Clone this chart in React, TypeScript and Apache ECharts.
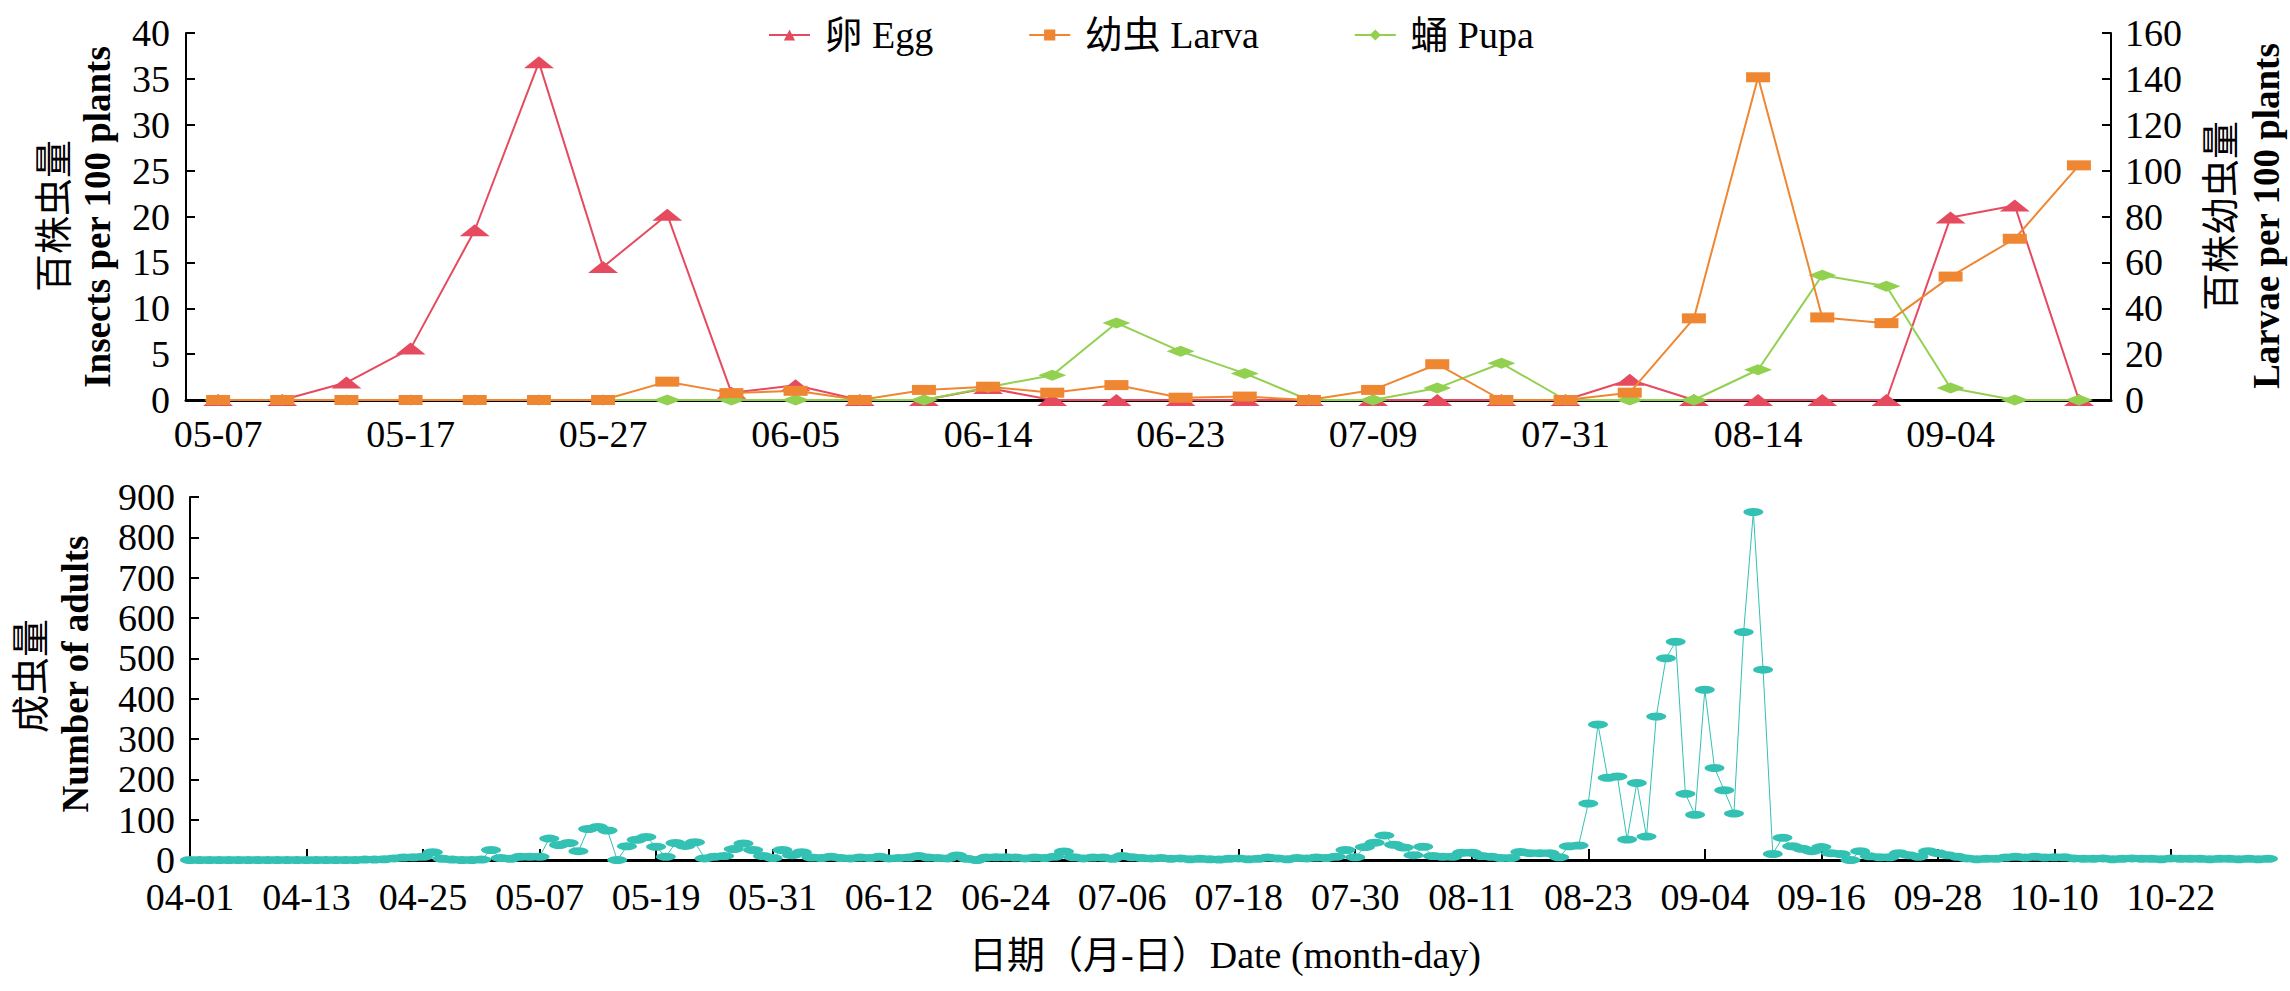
import React, { useEffect, useRef } from 'react';
import * as echarts from 'echarts';

// ---------- data ----------
const topDates = [
  '05-07', '05-10', '05-14', '05-17', '05-20', '05-24', '05-27', '05-31', '06-02', '06-05',
  '06-08', '06-11', '06-14', '06-17', '06-20', '06-23', '06-28', '07-04', '07-09', '07-16',
  '07-23', '07-31', '08-04', '08-09', '08-14', '08-21', '08-28', '09-04', '09-09', '09-14',
];
const eggValues = [0, 0, 1.9, 5.6, 18.5, 36.8, 14.5, 20.2, 0.8, 1.6, 0, 0, 1.3, 0, 0, 0, 0, 0, 0, 0, 0, 0, 2.2, 0, 0, 0, 0, 19.9, 21.2, 0];
const larvaValues = [0, 0, 0, 0, 0, 0, 0, 8, 3, 4, 0, 4.4, 5.8, 3.2, 6.5, 1, 1.5, 0, 4.4, 15.6, 0, 0, 3.2, 35.6, 140.7, 36, 33.5, 53.8, 70.3, 102.3];
const pupaValues = [0, 0, 0, 0, 0, 0, 0, 0, 0, 0, 0, 0, 1.4, 2.7, 8.4, 5.3, 2.9, 0, 0, 1.3, 4, 0, 0, 0, 3.3, 13.6, 12.4, 1.3, 0, 0];

const adultValues = [
  0, 0, 0, 0, 0, 0, 0, 0, 0, 0,
  0, 0, 0, 0, 0, 0, 0, 0, 1, 1,
  2, 4, 6, 7, 8, 19, 3, 1, 0, 0,
  1, 25, 5, 3, 8, 8, 8, 53, 37, 42,
  22, 77, 82, 73, 0, 34, 50, 57, 33, 8,
  42, 35, 44, 4, 8, 10, 27, 41, 25, 10,
  5, 25, 12, 19, 6, 5, 8, 5, 4, 6,
  5, 8, 4, 5, 6, 10, 6, 5, 4, 11,
  3, 0, 6, 7, 7, 6, 4, 6, 5, 8,
  21, 7, 4, 6, 6, 3, 10, 7, 5, 4,
  5, 3, 4, 2, 3, 2, 1, 3, 4, 2,
  3, 6, 4, 2, 5, 4, 6, 5, 8, 25,
  7, 32, 43, 61, 38, 31, 12, 33, 10, 8,
  8, 18, 18, 10, 8, 5, 5, 20, 17, 17,
  17, 7, 34, 36, 140, 336, 204, 207, 51, 191,
  58, 356, 500, 541, 164, 112, 422, 228, 173, 115,
  565, 863, 472, 15, 55, 34, 28, 22, 32, 17,
  15, 0, 22, 9, 7, 7, 17, 12, 8, 22,
  17, 12, 8, 4, 2, 3, 3, 6, 8, 6,
  8, 6, 7, 7, 4, 3, 3, 4, 2, 3,
  4, 3, 3, 2, 4, 3, 3, 3, 2, 3,
  3, 2, 3, 2, 3,
];

// daily category labels from 04-01
const adultDates: string[] = (() => {
  const out: string[] = [];
  const d = new Date(Date.UTC(2021, 3, 1));
  for (let i = 0; i < adultValues.length; i++) {
    const m = String(d.getUTCMonth() + 1).padStart(2, '0');
    const day = String(d.getUTCDate()).padStart(2, '0');
    out.push(`${m}-${day}`);
    d.setUTCDate(d.getUTCDate() + 1);
  }
  return out;
})();

const seriesNames = ['卵 Egg', '幼虫 Larva', '蛹 Pupa', '成虫 Adult'];

// ---------- styles ----------
const FONT = "'Liberation Serif', 'Times New Roman', 'Noto Sans CJK SC', serif";
const CJK = "'Noto Sans CJK SC', 'Noto Sans CJK JP', sans-serif";
const EGG = '#E64A5E';
const LARVA = '#EF8632';
const PUPA = '#92D050';
const ADULT = '#33C1B3';

function vText(x: number, y: number, text: string, font: string) {
  return {
    type: 'text',
    x,
    y,
    rotation: Math.PI / 2,
    silent: true,
    style: {
      text,
      font,
      fill: '#000',
      align: 'center',
      verticalAlign: 'middle',
      textAlign: 'center',
      textVerticalAlign: 'middle',
    },
  };
}

export default function App() {
  const ref = useRef<HTMLDivElement>(null);
  useEffect(() => {
    document.body.style.margin = '0';
    if (!ref.current) return;
    const chart = echarts.init(ref.current, undefined, { renderer: 'svg' });
    const axisLabel = { color: '#000', fontSize: 38, fontFamily: FONT };
    const option: any = {
      animation: false,
      backgroundColor: '#fff',
      legend: {
        top: 11,
        left: 763,
        itemWidth: 41,
        itemHeight: 14,
        itemGap: 95,
        data: seriesNames.slice(0, 3),
        formatter: (n: string) => ' ' + n,
        textStyle: { color: '#000', fontSize: 38, fontFamily: FONT },
      },
      grid: [
        { left: 186, top: 33, width: 1925, height: 367 },
        { left: 190, top: 497, width: 2078, height: 363 },
      ],
      xAxis: [
        {
          type: 'category',
          gridIndex: 0,
          data: topDates,
          boundaryGap: true,
          axisLine: { lineStyle: { color: '#000', width: 3 } },
          axisTick: { inside: true, length: 12, interval: 2, alignWithLabel: true, lineStyle: { color: '#000', width: 2 } },
          axisLabel: { ...axisLabel, interval: 2, margin: 15 },
          splitLine: { show: false },
        },
        {
          type: 'category',
          gridIndex: 1,
          data: adultDates,
          boundaryGap: false,
          axisLine: { lineStyle: { color: '#000', width: 3 } },
          axisTick: { inside: true, length: 11, interval: 11, lineStyle: { color: '#000', width: 2 } },
          axisLabel: { ...axisLabel, interval: 11, margin: 18 },
          splitLine: { show: false },
        },
      ],
      yAxis: [
        {
          type: 'value',
          gridIndex: 0,
          position: 'left',
          min: 0,
          max: 40,
          interval: 5,
          axisLine: { show: true, lineStyle: { color: '#000', width: 2 } },
          axisTick: { show: true, inside: true, length: 9, lineStyle: { color: '#000', width: 2 } },
          axisLabel: { ...axisLabel, margin: 16 },
          splitLine: { show: false },
        },
        {
          type: 'value',
          gridIndex: 0,
          position: 'right',
          min: 0,
          max: 160,
          interval: 20,
          axisLine: { show: true, lineStyle: { color: '#000', width: 2 } },
          axisTick: { show: true, inside: true, length: 9, lineStyle: { color: '#000', width: 2 } },
          axisLabel: { ...axisLabel, margin: 14 },
          splitLine: { show: false },
        },
        {
          type: 'value',
          gridIndex: 1,
          min: 0,
          max: 900,
          interval: 100,
          axisLine: { show: true, lineStyle: { color: '#000', width: 2 } },
          axisTick: { show: true, inside: true, length: 9, lineStyle: { color: '#000', width: 2 } },
          axisLabel: { ...axisLabel, margin: 15 },
          splitLine: { show: false },
        },
      ],
      series: [
        {
          name: seriesNames[0],
          type: 'line',
          xAxisIndex: 0,
          yAxisIndex: 0,
          data: eggValues,
          symbol: 'triangle',
          symbolSize: [30, 12],
          showAllSymbol: true,
          lineStyle: { color: EGG, width: 2 },
          itemStyle: { color: EGG },
          z: 2,
        },
        {
          name: seriesNames[2],
          type: 'line',
          xAxisIndex: 0,
          yAxisIndex: 0,
          data: pupaValues,
          symbol: 'diamond',
          symbolSize: [28, 11],
          showAllSymbol: true,
          lineStyle: { color: PUPA, width: 2 },
          itemStyle: { color: PUPA },
          z: 3,
        },
        {
          name: seriesNames[1],
          type: 'line',
          xAxisIndex: 0,
          yAxisIndex: 1,
          data: larvaValues,
          symbol: 'rect',
          symbolSize: [24, 10],
          showAllSymbol: true,
          lineStyle: { color: LARVA, width: 2 },
          itemStyle: { color: LARVA },
          z: 4,
        },
        {
          name: seriesNames[3],
          type: 'line',
          xAxisIndex: 1,
          yAxisIndex: 2,
          data: adultValues,
          symbol: 'circle',
          symbolSize: [20, 8],
          showAllSymbol: true,
          lineStyle: { color: ADULT, width: 1 },
          itemStyle: { color: ADULT },
          z: 2,
        },
      ],
      graphic: [
        vText(50, 216, '百株虫量', `38px ${CJK}`),
        vText(97, 217, 'Insects per 100 plants', `bold 37px ${FONT}`),
        vText(2217, 216, '百株幼虫量', `38px ${CJK}`),
        vText(2266, 216, 'Larvae per 100 plants', `bold 37px ${FONT}`),
        vText(27, 676, '成虫量', `38px ${CJK}`),
        vText(75, 674, 'Number of adults', `bold 37px ${FONT}`),
        {
          type: 'text',
          x: 1225,
          y: 955,
          silent: true,
          style: {
            text: '日期（月-日）Date (month-day)',
            font: `38px ${FONT}`,
            fill: '#000',
            align: 'center',
            verticalAlign: 'middle',
            textAlign: 'center',
            textVerticalAlign: 'middle',
          },
        },
      ],
    };
    chart.setOption(option);
    return () => chart.dispose();
  }, []);
  return <div ref={ref} style={{ width: 2290, height: 991 }} />;
}
